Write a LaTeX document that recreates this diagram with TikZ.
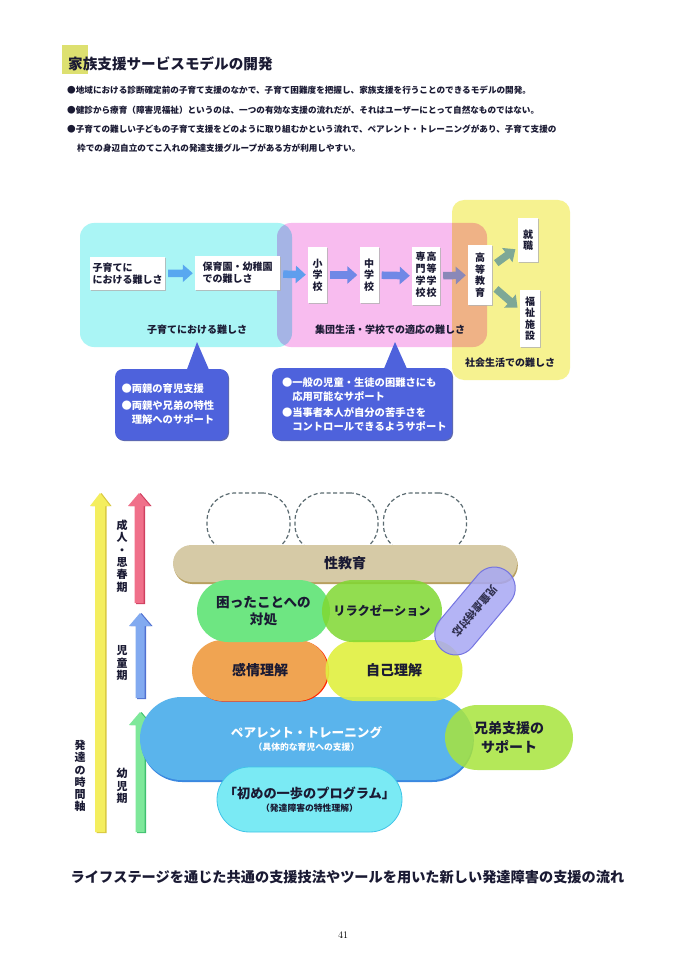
\documentclass[tikz,border=0pt]{standalone}
\usepackage{fontspec}
\newfontfamily\jp{Noto Sans CJK JP}
\usetikzlibrary{shapes.misc,arrows.meta,shadows}
\newcommand\fsz[2]{\fontsize{#1}{#2}\selectfont}
\definecolor{titlehl}{HTML}{DDE070}
\definecolor{inkc}{HTML}{1A1A33}
\definecolor{cyanbg}{HTML}{AAF5F5}
\definecolor{pinkbg}{HTML}{F8BCEF}
\definecolor{yellowbg}{HTML}{F6F290}
\definecolor{callc}{HTML}{4E62DC}
\definecolor{arrA}{HTML}{58A8F0}
\definecolor{arrB}{HTML}{7088E6}
\definecolor{arrC}{HTML}{8A88B8}
\definecolor{arrD}{HTML}{7EA896}
\definecolor{tanc}{HTML}{D6CAA6}
\definecolor{tand}{HTML}{B8A060}
\definecolor{mintc}{HTML}{6EE682}
\definecolor{relc}{HTML}{80D832}
\definecolor{purc}{HTML}{A8A8F4}
\definecolor{purd}{HTML}{7474E0}
\definecolor{orac}{HTML}{F0A452}
\definecolor{jikoc}{HTML}{E0F040}
\definecolor{bluec}{HTML}{5AB4EC}
\definecolor{blued}{HTML}{3A88E0}
\definecolor{kyoc}{HTML}{A8E43C}
\definecolor{hajc}{HTML}{7AEAF4}
\definecolor{hajd}{HTML}{40C4E8}
\definecolor{dashc}{HTML}{5A6A70}
\definecolor{axY}{HTML}{F4EE5E}
\definecolor{axYd}{HTML}{D8C840}
\definecolor{axR}{HTML}{F0708A}
\definecolor{axRd}{HTML}{D04060}
\definecolor{axB}{HTML}{82AAF0}
\definecolor{axBd}{HTML}{5070D0}
\definecolor{axG}{HTML}{7EE89A}
\definecolor{axGd}{HTML}{40C070}
\tikzset{
  txt/.style={inner sep=0pt, font=\jp\bfseries, text=inkc},
  zone/.style={rounded corners=14pt, inner sep=0pt},
  wbox/.style={txt, fill=white, inner sep=2pt,
     drop shadow={shadow xshift=1.3pt, shadow yshift=-1.3pt, fill=black!30, opacity=0.8}},
  hbox/.style={wbox, align=left, font=\jp\bfseries\fsz{10}{12}},
  vbox/.style={wbox, align=center, font=\jp\bfseries\fsz{10}{11.5}},
  flow/.style={line width=7.5pt, -{Triangle[length=10pt,width=17pt]}, shorten <=3pt, shorten >=2pt},
  callout/.style={txt, fill=callc, text=white, rounded corners=8pt, align=left,
     font=\jp\bfseries\fsz{10.3}{14},
     drop shadow={shadow xshift=1pt, shadow yshift=-1pt, fill=callc!70!black, opacity=0.8}},
  pill/.style={txt, rounded rectangle, align=center},
  dashpill/.style={draw=dashc, dash pattern=on 4pt off 2.5pt, line width=1.2pt, rounded corners=28pt,
     minimum width=83pt, minimum height=60pt, inner sep=0pt},
  vlabel/.style={txt, align=center, font=\jp\bfseries\fsz{11}{12.3}},
}
\newcommand\vArrow[7]{%
  \fill[#7] ({#1-#4+1.5},{#3+1}) -- ({#1-#4+1.5},{#2+13}) -- ({#1-#5+1.5},{#2+13}) -- ({#1+1.5},{#2})
     -- ({#1+#5+1.5},{#2+13}) -- ({#1+#4+1.5},{#2+13}) -- ({#1+#4+1.5},{#3+1}) -- cycle;
  \fill[#6] ({#1-#4},#3) -- ({#1-#4},{#2+13}) -- ({#1-#5},{#2+13}) -- (#1,#2)
     -- ({#1+#5},{#2+13}) -- ({#1+#4},{#2+13}) -- ({#1+#4},#3) -- cycle;
}
\begin{document}
\begin{tikzpicture}[x=1pt,y=-1pt]
\useasboundingbox[fill=white] (0,0) rectangle (685,968);

% ---------- title and bullets
\fill[titlehl] (62,45) rectangle (88,74);
\node[txt, anchor=west, font=\jp\bfseries\fsz{14.6}{16}] (title) at (68,64) {家族支援サービスモデルの開発};
\node[txt, anchor=west, font=\jp\bfseries\fsz{8.6}{10}] (b1) at (67,90)
  {●地域における診断確定前の子育て支援のなかで、子育て困難度を把握し、家族支援を行うことのできるモデルの開発。};
\node[txt, anchor=west, font=\jp\bfseries\fsz{8.6}{10}] (b2) at (67,110)
  {●健診から療育（障害児福祉）というのは、一つの有効な支援の流れだが、それはユーザーにとって自然なものではない。};
\node[txt, anchor=west, font=\jp\bfseries\fsz{8.6}{10}] (b3) at (67,129)
  {●子育ての難しい子どもの子育て支援をどのように取り組むかという流れで、ペアレント・トレーニングがあり、子育て支援の};
\node[txt, anchor=west, font=\jp\bfseries\fsz{8.6}{10}] (b4) at (77,148)
  {枠での身辺自立のてこ入れの発達支援グループがある方が利用しやすい。};

% ---------- top diagram: zones
\begin{scope}[blend mode=multiply]
\node[zone, fill=cyanbg, minimum width=212pt, minimum height=124pt] (zoneA) at (186,285) {};
\node[zone, fill=pinkbg, minimum width=210pt, minimum height=124pt] (zoneB) at (382,285) {};
\node[zone, fill=yellowbg, rounded corners=12pt, minimum width=118pt, minimum height=180pt] (zoneC) at (511,290) {};
\end{scope}

% ---------- top diagram: boxes
\node[hbox, minimum width=75pt, minimum height=33pt] (n1) at (127.5,273.5) {子育てに\\における難しさ};
\node[hbox, minimum width=85pt, minimum height=34pt] (n2) at (237.5,273) {保育園・幼稚園\\での難しさ};
\node[vbox, minimum width=19pt, minimum height=56pt] (n3) at (317.5,275) {小\\学\\校};
\node[vbox, minimum width=19pt, minimum height=56pt] (n4) at (369,275) {中\\学\\校};
\node[vbox, minimum width=28pt, minimum height=58pt] (n5) at (426,276)
  {\begin{tabular}{@{}c@{\hspace{1pt}}c@{}}専&高\\門&等\\学&学\\校&校\end{tabular}};
\node[vbox, minimum width=24pt, minimum height=60pt] (n6) at (480,275) {高\\等\\教\\育};
\node[vbox, minimum width=20pt, minimum height=44pt] (n7) at (528,240) {就\\職};
\node[vbox, minimum width=20pt, minimum height=57pt] (n8) at (530,318.5) {福\\祉\\施\\設};

\draw[flow, arrA] (n1) -- (n2);
\draw[flow, arrA!70!arrB] (n2) -- (n3);
\draw[flow, arrB] (n3) -- (n4);
\draw[flow, arrB] (n4) -- (n5);
\draw[flow, arrC] (n5) -- (n6);
\draw[flow, arrD, shorten <=5pt, shorten >=3pt] (n6) -- (n7);
\draw[flow, arrD, shorten <=5pt, shorten >=3pt] (n6) -- (n8);

\node[txt, font=\jp\bfseries\fsz{10}{12}] (labA) at (197,330) {子育てにおける難しさ};
\node[txt, font=\jp\bfseries\fsz{10}{12}] (labB) at (390,330) {集団生活・学校での適応の難しさ};
\node[txt, font=\jp\bfseries\fsz{10}{12}] (labC) at (510,363) {社会生活での難しさ};

% ---------- callouts
\coordinate (tipL) at (197,342);
\coordinate (tipR) at (395,342);
\node[callout, minimum width=113pt, minimum height=71pt, text width=100pt] (cL) at (171.5,404.5)
  {●両親の育児支援\\[3pt]●両親や兄弟の特性\\　理解へのサポート};
\node[callout, minimum width=180pt, minimum height=72pt, text width=160pt] (cR) at (362,404)
  {●一般の児童・生徒の困難さにも\\　応用可能なサポート\\[2pt]●当事者本人が自分の苦手さを\\　コントロールできるようサポート};
\fill[callc] (tipL) -- (186,372) -- (210,372) -- cycle;
\fill[callc] (tipR) -- (383,371) -- (408,371) -- cycle;

% ---------- time axis arrows
\vArrow{100}{493}{832}{5}{10}{axY}{axYd}
\vArrow{139}{493}{603}{4.5}{11}{axR}{axRd}
\vArrow{140}{613}{698}{4.5}{11}{axB}{axBd}
\vArrow{140}{712}{832}{4.5}{11}{axG}{axGd}
\node[vlabel] (lAdult) at (122,556) {成\\人\\・\\思\\春\\期};
\node[vlabel] (lChild) at (122,663) {児\\童\\期};
\node[vlabel] (lInfant) at (122,786) {幼\\児\\期};
\node[vlabel] (lAxis) at (80,776) {発\\達\\の\\時\\間\\軸};

% ---------- bottom diagram
\node[dashpill] (d1) at (248.5,523) {};
\node[dashpill] (d2) at (336.5,523) {};
\node[dashpill] (d3) at (425,523) {};

\node[pill, fill=tanc, minimum width=344pt, minimum height=37pt, font=\jp\bfseries\fsz{14}{16},
  drop shadow={shadow xshift=0.8pt, shadow yshift=-2pt, fill=tand, opacity=1}] (sexed) at (345,563.5) {性教育};

\node[pill, fill=bluec, minimum width=333pt, minimum height=83pt, text=white,
  drop shadow={shadow xshift=0.8pt, shadow yshift=-2pt, fill=blued, opacity=1}] (parent) at (306.5,738.5)
  {{\fsz{12.6}{15}ペアレント・トレーニング}\\[1pt]{\fsz{8.8}{10}（具体的な育児への支援）}};
\node[pill, fill=kyoc, opacity=0.85, text opacity=1, minimum width=128pt, minimum height=65pt,
  font=\jp\bfseries\fsz{14}{19}] (kyodai) at (509,737.5) {兄弟支援の\\サポート};
\node[pill, fill=hajc, draw=hajd, line width=0.8pt, minimum width=185pt, minimum height=65pt] (hajime) at (309.5,799.5)
  {{\fsz{13.2}{15}「初めの一歩のプログラム」}\\[1pt]{\fsz{8.8}{10}（発達障害の特性理解）}};

\node[pill, fill=orac, minimum width=136pt, minimum height=61pt, font=\jp\bfseries\fsz{14}{16},
  drop shadow={shadow xshift=1.2pt, shadow yshift=-0.6pt, fill=red!70!orange, opacity=1}] (kanjo) at (260,670.5) {感情理解};
\node[pill, fill=jikoc, opacity=0.9, text opacity=1, minimum width=137pt, minimum height=61pt,
  font=\jp\bfseries\fsz{14}{16}] (jiko) at (394,670.5) {自己理解};
\node[pill, fill=mintc, minimum width=133pt, minimum height=62pt, font=\jp\bfseries\fsz{13.6}{17}] (komatta) at (263.5,611)
  {困ったことへの\\対処};
\node[pill, fill=relc, opacity=0.85, text opacity=1, minimum width=120pt, minimum height=62pt,
  font=\jp\bfseries\fsz{12.2}{14}] (relax) at (382,611) {リラクゼーション};
\node[pill, fill=purc, draw=purd, line width=1pt, fill opacity=0.85, minimum width=102pt, minimum height=42pt,
  rotate=230, font=\jp\bfseries\fsz{10.5}{12}] (abuse) at (475,611) {児童虐待対応};

% ---------- caption and page number
\node[txt, font=\jp\bfseries\fsz{14.2}{16}] (caption) at (347.5,877)
  {ライフステージを通じた共通の支援技法やツールを用いた新しい発達障害の支援の流れ};
\node[inner sep=0pt, font=\rmfamily\fsz{10}{12}] (pageno) at (343,935) {41};
\end{tikzpicture}
\end{document}
